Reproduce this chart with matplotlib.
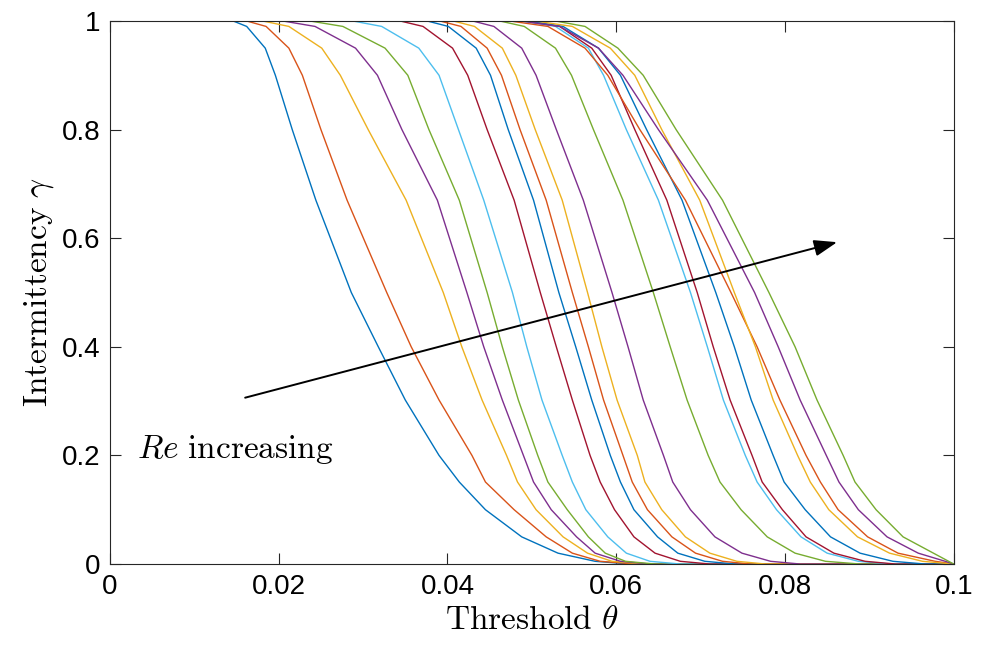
import matplotlib
matplotlib.use("Agg")
import matplotlib.pyplot as plt
import numpy as np

gamma_levels = [1.0, 0.99, 0.95, 0.9, 0.8, 0.67, 0.5, 0.4, 0.302, 0.2, 0.151, 0.1, 0.05, 0.02, 0.005]

theta_g100 = [0.0146, 0.0162, 0.0181, 0.0205, 0.0237, 0.0288, 0.0344, 0.0376, 0.0391, 0.0407,
              0.0430, 0.0462, 0.0486, 0.0492, 0.0496, 0.0474, 0.0504, 0.0488, 0.0528]
theta_g099 = [0.0162, 0.0185, 0.0212, 0.0243, 0.0276, 0.0322, 0.0371, 0.0401, 0.0416, 0.0432,
              0.0455, 0.0491, 0.0528, 0.0533, 0.0537, 0.0519, 0.0548, 0.0533, 0.0563]
theta_g095 = [0.0184, 0.0212, 0.0251, 0.0291, 0.0326, 0.0366, 0.0406, 0.0434, 0.0447, 0.0465,
              0.0488, 0.0528, 0.0567, 0.0571, 0.0579, 0.0563, 0.0593, 0.0579, 0.0602]
theta_g090 = [0.0196, 0.0228, 0.0273, 0.0317, 0.0353, 0.0390, 0.0424, 0.0451, 0.0464, 0.0481,
              0.0505, 0.0547, 0.0585, 0.0594, 0.0605, 0.0590, 0.0622, 0.0608, 0.0632]
theta_g080 = [0.0216, 0.0250, 0.0306, 0.0346, 0.0378, 0.0413, 0.0447, 0.0472, 0.0486, 0.0504,
              0.0529, 0.0573, 0.0612, 0.0622, 0.0636, 0.0628, 0.0654, 0.0650, 0.0671]
theta_g067 = [0.0244, 0.0281, 0.0351, 0.0388, 0.0414, 0.0443, 0.0479, 0.0502, 0.0517, 0.0536,
              0.0561, 0.0608, 0.0650, 0.0660, 0.0678, 0.0682, 0.0699, 0.0708, 0.0726]
theta_g050 = [0.0286, 0.0328, 0.0395, 0.0423, 0.0447, 0.0477, 0.0510, 0.0532, 0.0548, 0.0566,
              0.0595, 0.0644, 0.0688, 0.0696, 0.0718, 0.0736, 0.0740, 0.0764, 0.0781]
theta_g040 = [0.0318, 0.0357, 0.0417, 0.0443, 0.0465, 0.0494, 0.0529, 0.0552, 0.0567, 0.0583,
              0.0614, 0.0664, 0.0708, 0.0715, 0.0740, 0.0767, 0.0765, 0.0792, 0.0812]
theta_g030 = [0.0350, 0.0390, 0.0441, 0.0465, 0.0484, 0.0512, 0.0548, 0.0571, 0.0585, 0.0601,
              0.0632, 0.0684, 0.0727, 0.0735, 0.0760, 0.0794, 0.0786, 0.0818, 0.0838]
theta_g020 = [0.0390, 0.0429, 0.0470, 0.0490, 0.0507, 0.0536, 0.0569, 0.0593, 0.0608, 0.0625,
              0.0656, 0.0709, 0.0753, 0.0761, 0.0786, 0.0825, 0.0815, 0.0849, 0.0869]
theta_g015 = [0.0414, 0.0445, 0.0483, 0.0502, 0.0519, 0.0548, 0.0581, 0.0605, 0.0619, 0.0634,
              0.0667, 0.0723, 0.0767, 0.0773, 0.0799, 0.0842, 0.0830, 0.0864, 0.0883]
theta_g010 = [0.0445, 0.0479, 0.0505, 0.0523, 0.0542, 0.0564, 0.0598, 0.0621, 0.0637, 0.0654,
              0.0688, 0.0748, 0.0790, 0.0797, 0.0824, 0.0863, 0.0852, 0.0887, 0.0908]
theta_g005 = [0.0488, 0.0517, 0.0537, 0.0553, 0.0567, 0.0590, 0.0621, 0.0649, 0.0666, 0.0682,
              0.0717, 0.0779, 0.0819, 0.0825, 0.0854, 0.0898, 0.0886, 0.0921, 0.0940]
theta_g002 = [0.0531, 0.0548, 0.0566, 0.0575, 0.0587, 0.0612, 0.0646, 0.0673, 0.0694, 0.0711,
              0.0749, 0.0812, 0.0850, 0.0858, 0.0889, 0.0934, 0.0924, 0.0958, 0.0976]
theta_g0005 = [0.0575, 0.0581, 0.0595, 0.0605, 0.0611, 0.0640, 0.0676, 0.0705, 0.0726, 0.0743,
               0.0783, 0.0848, 0.0887, 0.0895, 0.0928, 0.0978, 0.0963, 0.0990, 0.0994]
# where each curve reaches zero
theta_zero = [0.0616, 0.0622, 0.0634, 0.0640, 0.0646, 0.0676, 0.0711, 0.0741, 0.0759, 0.0777,
              0.0818, 0.0889, 0.0925, 0.0931, 0.0966, 0.1, 0.1, 0.1, 0.1]

matlab_colors = ['#0072BD', '#D95319', '#EDB120', '#7E2F8E', '#77AC30', '#4DBEEE', '#A2142F']

plt.rcParams['mathtext.fontset'] = 'cm'

fig = plt.figure(figsize=(9.84, 6.48), dpi=100)
ax = fig.add_axes([0.1118, 0.1296, 0.8574, 0.838])

levels = np.array([theta_g100, theta_g099, theta_g095, theta_g090, theta_g080, theta_g067,
                   theta_g050, theta_g040, theta_g030, theta_g020, theta_g015, theta_g010,
                   theta_g005, theta_g002, theta_g0005])

for i in range(len(theta_zero)):
    xs = [0.0] + list(levels[:, i]) + [theta_zero[i], 0.1]
    ys = [1.0] + list(gamma_levels) + [0.0, 0.0]
    ax.plot(xs, ys, color=matlab_colors[i % 7], lw=1.0)

ax.set_xlim(0, 0.1)
ax.set_ylim(0, 1)
ax.set_xticks([0, 0.02, 0.04, 0.06, 0.08, 0.1])
ax.set_yticks([0, 0.2, 0.4, 0.6, 0.8, 1])
ax.set_xticklabels(['0', '0.02', '0.04', '0.06', '0.08', '0.1'])
ax.set_yticklabels(['0', '0.2', '0.4', '0.6', '0.8', '1'])
ax.tick_params(direction='in', length=8, width=0.8, top=True, right=True,
               labelsize=20, colors='#262626', labelcolor='black', pad=7)
for s in ax.spines.values():
    s.set_color('#262626')
    s.set_linewidth(0.8)
for lab in ax.get_xticklabels() + ax.get_yticklabels():
    lab.set_family(['Liberation Sans', 'DejaVu Sans'])

ax.set_xlabel(r'$\mathrm{Threshold}\ \theta$', fontsize=24, labelpad=2)
ax.set_ylabel(r'$\mathrm{Intermittency}\ \gamma$', fontsize=24, labelpad=4)

ax.annotate('', xy=(0.0865, 0.594), xytext=(0.0157, 0.305),
            arrowprops=dict(arrowstyle='-|>,head_length=0.7,head_width=0.25',
                            color='black', lw=1.4, mutation_scale=20))
ax.text(0.0032, 0.21, r'$Re\ \mathrm{increasing}$', fontsize=24, va='center', ha='left')

plt.savefig('out.png', dpi=100)
plt.close()
